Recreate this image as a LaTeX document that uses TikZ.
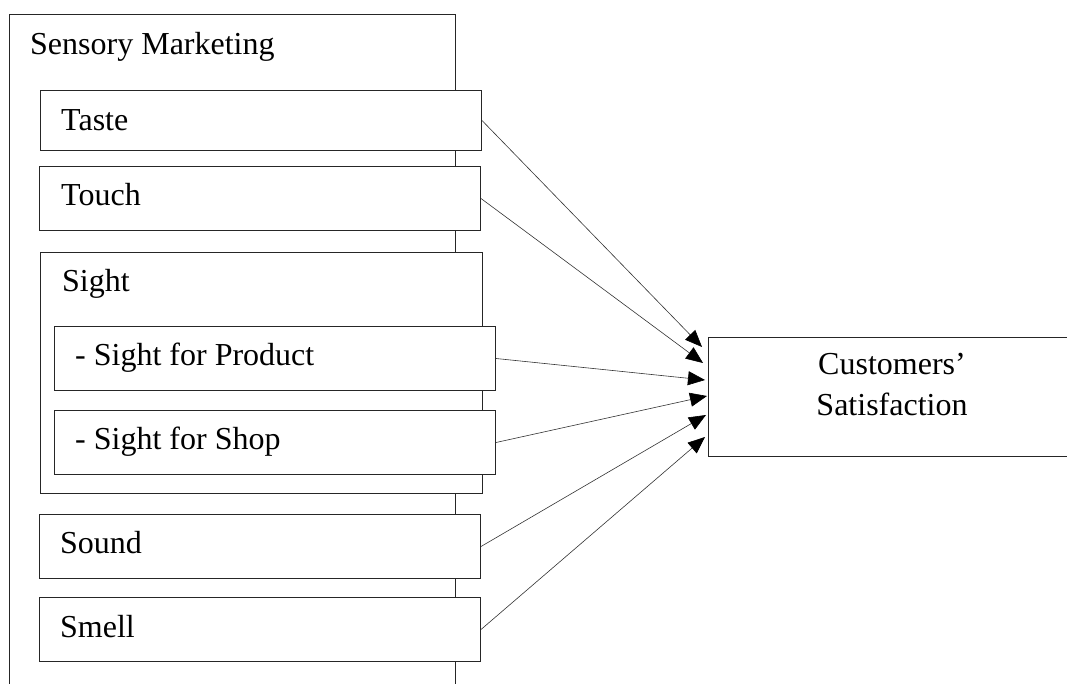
\documentclass[tikz,border=0pt]{standalone}
\usepackage{fontspec}
\setmainfont{Liberation Serif}
\usetikzlibrary{arrows.meta}
\begin{document}
\begin{tikzpicture}[x=1pt,y=-1pt,
  box/.style={draw=black!85,line width=1pt,fill=white,rectangle,inner sep=0pt,anchor=north west},
  lbl/.style={anchor=base west,inner sep=0pt,font=\fontsize{32}{40}\selectfont},
  clbl/.style={anchor=base,inner sep=0pt,font=\fontsize{32}{40}\selectfont},
  arr/.style={draw=black!80,line width=0.6pt,-{Triangle[length=17pt,width=14pt,color=black]}}]
\useasboundingbox (0,0) rectangle (1067,684);
\clip (0,0) rectangle (1067,684);
% outer container
\node[box,minimum width=446pt,minimum height=700pt] (sm) at (9,14) {};
\node[lbl] (smt) at (30,55) {Sensory Marketing};
% senses
\node[box,minimum width=441pt,minimum height=60pt] (taste) at (40,90) {};
\node[lbl] (tastet) at (61,131) {Taste};
\node[box,minimum width=441pt,minimum height=64pt] (touch) at (39,166) {};
\node[lbl] (toucht) at (61,206) {Touch};
\node[box,minimum width=442pt,minimum height=241pt] (sight) at (40,252) {};
\node[lbl] (sightt) at (62,292) {Sight};
\node[box,minimum width=441pt,minimum height=64pt] (prod) at (54,326) {};
\node[lbl] (prodt) at (75,365) {- Sight for Product};
\node[box,minimum width=441pt,minimum height=64pt] (shop) at (54,410) {};
\node[lbl] (shopt) at (75,449) {- Sight for Shop};
\node[box,minimum width=441pt,minimum height=64pt] (sound) at (39,514) {};
\node[lbl] (soundt) at (60,553) {Sound};
\node[box,minimum width=441pt,minimum height=64pt] (smell) at (39,597) {};
\node[lbl] (smellt) at (60,637) {Smell};
% outcome
\node[box,minimum width=370pt,minimum height=119pt] (cs) at (708,337) {};
\node[clbl] (cst1) at (892,374) {Customers’};
\node[clbl] (cst2) at (892,415) {Satisfaction};
% arrow ends
\coordinate (e1) at (702,347);
\coordinate (e2) at (703,363);
\coordinate (e3) at (705,380);
\coordinate (e4) at (707,396);
\coordinate (e5) at (706,415);
\coordinate (e6) at (705,437);
\draw[arr] (taste.east) -- (e1);
\draw[arr] (touch.east) -- (e2);
\draw[arr] (prod.east) -- (e3);
\draw[arr] (shop.east) -- (e4);
\draw[arr] (sound.east) -- (e5);
\draw[arr] (smell.east) -- (e6);
\end{tikzpicture}
\end{document}
